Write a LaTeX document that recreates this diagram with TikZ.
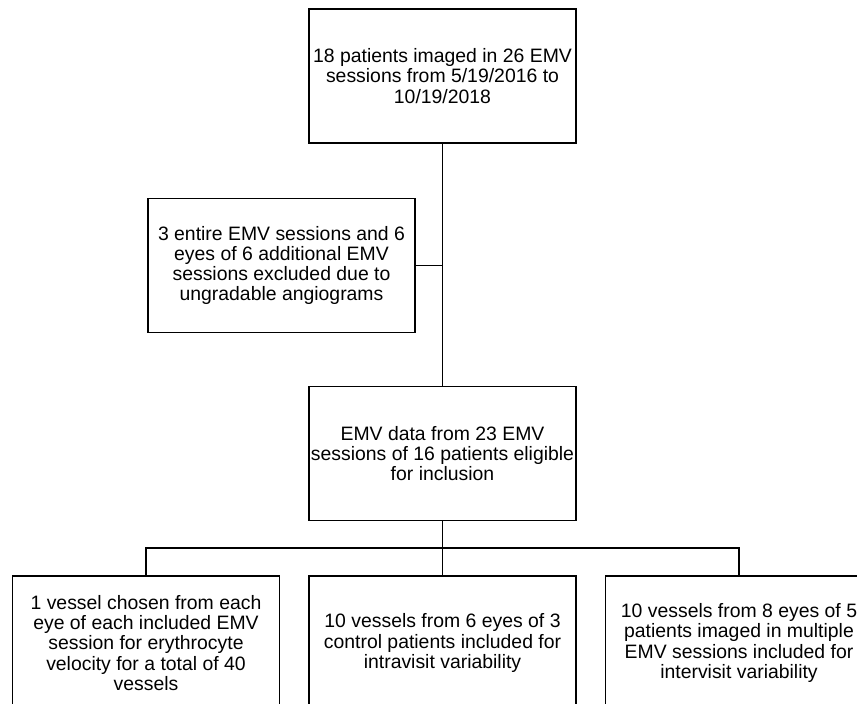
\documentclass[tikz,border=0pt]{standalone}
\usepackage{fontspec}
\setmainfont{Liberation Sans}
\usetikzlibrary{shapes}

\begin{document}
\begin{tikzpicture}[x=1pt,y=-1pt,line width=1.7pt,
  box/.style={draw,rectangle,align=center,inner sep=0pt,outer sep=0pt,
    minimum width=267pt,minimum height=134pt,
    font=\fontsize{19.4}{20.3}\selectfont}]
\useasboundingbox (0,0) rectangle (857,704);

\node[box] (top) at (442.5,76) {18 patients imaged in 26 EMV\\sessions from 5/19/2016 to\\10/19/2018};
\node[box] (excl) at (281.5,265.5) {3 entire EMV sessions and 6\\eyes of 6 additional EMV\\sessions excluded due to\\ungradable angiograms};
\node[box] (data) at (442.5,453.5) {EMV data from 23 EMV\\sessions of 16 patients eligible\\for inclusion};

\node[box] (single) at (146,643) {1 vessel chosen from each\\eye of each included EMV\\session for erythrocyte\\velocity for a total of 40\\vessels};
\node[box] (control) at (442.5,643) {10 vessels from 6 eyes of 3\\control patients included for\\intravisit variability};
\node[box] (multi) at (739,643) {10 vessels from 8 eyes of 5\\patients imaged in multiple\\EMV sessions included for\\intervisit variability};

\draw (top.south) -- (data.north);
\draw (excl.east) -- (excl.east -| top.south);

\coordinate (fork) at (442.5,548);
\draw (data.south) -- (fork) -- (control.north);
\draw (fork) -| (single.north);
\draw (fork) -| (multi.north);
\end{tikzpicture}
\end{document}
